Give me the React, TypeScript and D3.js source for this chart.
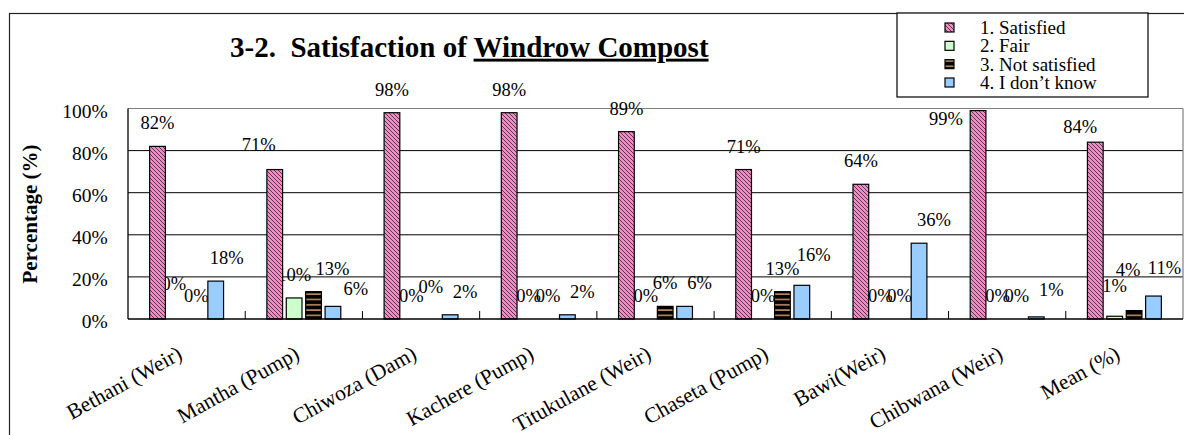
import React from "react";
import * as d3 from "d3";

const categories = [
  "Bethani (Weir)",
  "Mantha (Pump)",
  "Chiwoza (Dam)",
  "Kachere (Pump)",
  "Titukulane (Weir)",
  "Chaseta (Pump)",
  "Bawi(Weir)",
  "Chibwana (Weir)",
  "Mean (%)",
];
const seriesNames = ["1. Satisfied", "2. Fair", "3. Not satisfied", "4. I don\u2019t know"];
const satisfied = [82, 71, 98, 98, 89, 71, 64, 99, 84];
const fair = [0, 10, 0, 0, 0, 0, 0, 0, 1.3];
const notSatisfied = [0, 13, 0, 0, 6, 13, 0, 0, 4];
const dontKnow = [18, 6, 2, 2, 6, 16, 36, 1, 10.9];
const yTicks = [0, 20, 40, 60, 80, 100];

const seriesValues = [satisfied, fair, notSatisfied, dontKnow];
const fills = ["url(#hatchPink)", "#CCFFCC", "url(#stripeTan)", "#99CCFF"];

// label placement tweaks (px) mimicking the hand-placed labels of the original
const seriesLabelDx = [0, 0, 0, 15];
const labelNudge: Record<string, [number, number]> = {
  "0|1": [-3, -12],
  "0|3": [-4, 0],
  "1|0": [-16, -2],
  "1|2": [19, 0],
  "1|3": [8, 6],
  "2|2": [0, -9],
  "5|3": [-3, -7],
  "7|0": [-32, 31],
  "7|3": [0, -4],
  "8|0": [-15, 8],
  "8|1": [0, -7],
  "8|2": [-6, -18],
  "8|3": [-4, -5],
};

const FONT = "'Times New Roman', 'Liberation Serif', serif";

export default function App() {
  const W = 1184;
  const H = 435;
  const plot = { left: 128, right: 1183, top: 108.5, bottom: 319 };

  const x = d3.scaleBand<string>().domain(categories).range([plot.left, plot.right]).paddingInner(0).paddingOuter(0);
  const groupFrac = 0.662;
  const xs = d3
    .scaleBand<string>()
    .domain(seriesNames)
    .range([0, x.bandwidth() * groupFrac])
    .paddingInner(0.19)
    .paddingOuter(0.095);
  const groupOffset = (x.bandwidth() * (1 - groupFrac)) / 2;
  const y = d3.scaleLinear().domain([0, 100]).range([plot.bottom, plot.top]);

  const bars: any[] = [];
  const labels: any[] = [];
  categories.forEach((c, ci) => {
    seriesNames.forEach((s, si) => {
      const v = seriesValues[si][ci];
      const bx = (x(c) as number) + groupOffset + (xs(s) as number);
      const bw = xs.bandwidth();
      const top = y(v);
      if (v > 0) {
        bars.push(
          <rect
            key={`b${ci}-${si}`}
            x={bx}
            y={top}
            width={bw}
            height={plot.bottom - top}
            fill={fills[si]}
            stroke="#000"
            strokeWidth={1.2}
          />
        );
      }
      const n = labelNudge[`${ci}|${si}`] || [0, 0];
      labels.push(
        <text
          key={`l${ci}-${si}`}
          x={bx + bw / 2 + seriesLabelDx[si] + n[0]}
          y={top - 17 + n[1]}
          textAnchor="middle"
          fontSize={18.5}
          fontFamily={FONT}
          fill="#000"
        >
          {Math.round(v) + "%"}
        </text>
      );
    });
  });

  const legendX = 897;
  const legendY = 13;
  const legendRowStep = 18.33;

  return (
    <svg
      width={W}
      height={H}
      style={{ position: "absolute", left: 0, top: 0, background: "#fff" }}
      fontFamily={FONT}
    >
      <defs>
        <pattern id="hatchPink" patternUnits="userSpaceOnUse" width={4} height={4}>
          <rect width={4} height={4} fill="#FF86C4" />
          <path d="M-1,-1 L5,5 M-1,3 L1,5 M3,-1 L5,1" stroke="#3c2c36" strokeWidth={0.85} />
        </pattern>
        <pattern id="stripeTan" patternUnits="userSpaceOnUse" width={10} height={5.3}>
          <rect width={10} height={5.3} fill="#000" />
          <rect y={2} width={10} height={1.4} fill="#D6A06A" />
        </pattern>
      </defs>
      <rect x={0} y={0} width={W} height={H} fill="#fff" />
      {/* outer frame */}
      <rect x={9.5} y={13.5} width={1300} height={600} fill="none" stroke="#222" strokeWidth={1.2} />

      {/* title */}
      <text x={230} y={56.7} fontSize={29} fontWeight="bold" fill="#000" style={{ whiteSpace: "pre" }}>
        <tspan>{"3-2.  Satisfaction of "}</tspan>
        <tspan textDecoration="underline">Windrow Compost</tspan>
      </text>

      {/* gridlines */}
      {yTicks
        .filter((t) => t > 0 && t < 100)
        .map((t) => (
          <line key={`g${t}`} x1={plot.left} x2={plot.right} y1={y(t)} y2={y(t)} stroke="#000" strokeWidth={1} />
        ))}
      <line x1={plot.left} x2={plot.right} y1={y(100)} y2={y(100)} stroke="#808080" strokeWidth={1.2} />
      <line x1={plot.right} x2={plot.right} y1={y(100)} y2={plot.bottom} stroke="#808080" strokeWidth={1.2} />

      {/* y tick labels */}
      {yTicks.map((t) => (
        <text key={`yt${t}`} x={107.7} y={y(t) + 9} textAnchor="end" fontSize={19.5} fill="#000">
          {t + "%"}
        </text>
      ))}

      {/* y axis title */}
      <text
        transform={`translate(37,214) rotate(-90)`}
        textAnchor="middle"
        fontSize={21}
        fontWeight="bold"
        fill="#000"
      >
        Percentage (%)
      </text>

      {labels}
      {bars}

      {/* axes */}
      <line x1={plot.left} x2={plot.left} y1={y(100)} y2={plot.bottom} stroke="#000" strokeWidth={1.3} />
      <line x1={plot.left} x2={plot.right} y1={plot.bottom} y2={plot.bottom} stroke="#000" strokeWidth={1.5} />
      {categories.map((c, i) =>
        i === 0 ? null : (
          <line
            key={`xt${i}`}
            x1={x(c) as number}
            x2={x(c) as number}
            y1={plot.bottom}
            y2={plot.bottom - 8}
            stroke="#000"
            strokeWidth={1}
          />
        )
      )}

      {/* x labels */}
      {categories.map((c) => {
        const cx = (x(c) as number) + x.bandwidth() / 2 - 3;
        return (
          <text
            key={`xl${c}`}
            transform={`translate(${cx},358) rotate(-29)`}
            textAnchor="end"
            fontSize={21.5}
            fill="#000"
          >
            {c}
          </text>
        );
      })}

      {/* legend */}
      <rect x={legendX} y={legendY} width={251} height={84} fill="#fff" stroke="#000" strokeWidth={1.2} />
      {seriesNames.map((s, i) => {
        const cy = legendY + 14.5 + i * legendRowStep;
        return (
          <g key={`lg${i}`}>
            <rect x={945} y={cy - 4.5} width={9} height={9} fill={fills[i]} stroke="#000" strokeWidth={1.2} />
            <text x={980} y={cy + 6.5} fontSize={19} fill="#000">
              {s}
            </text>
          </g>
        );
      })}
    </svg>
  );
}
